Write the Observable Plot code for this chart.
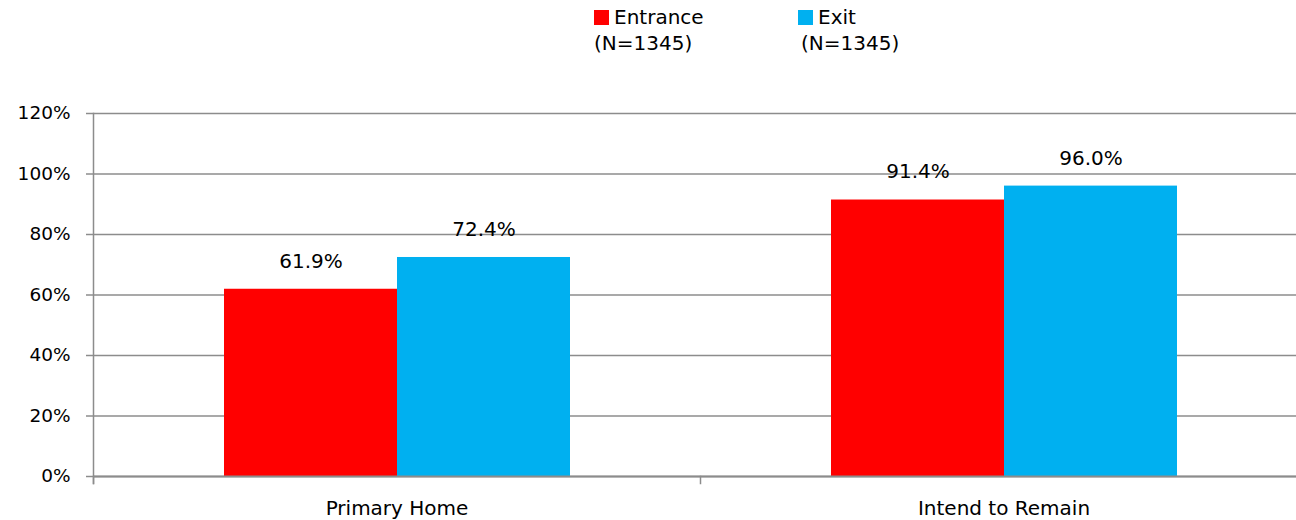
<!DOCTYPE html>
<html>
<head>
<meta charset="utf-8">
<script src="https://cdn.jsdelivr.net/npm/d3@7"></script>
<script src="https://cdn.jsdelivr.net/npm/@observablehq/plot@0.6"></script>
<style>
  html, body { margin: 0; padding: 0; background: #fff; overflow: hidden; }
  #wrap { position: relative; width: 1296px; height: 520px; overflow: hidden; font-family: "DejaVu Sans", sans-serif; }
  #chart { position: absolute; left: 0; top: 0; width: 1307px; }
  #chart svg { max-width: none !important; }
  .leg { position: absolute; font-size: 20px; color: #000; line-height: 1; white-space: nowrap; }
  .sw { display: inline-block; width: 15px; height: 15px; margin-right: 5px; vertical-align: -1px; }
</style>
</head>
<body>
<div id="wrap">
  <div id="chart"></div>
  <div class="leg" style="left:594px; top:7px;"><span class="sw" id="sw0"></span><span id="lg0"></span></div>
  <div class="leg" style="left:594px; top:33px;" id="ln0"></div>
  <div class="leg" style="left:798px; top:7px;"><span class="sw" id="sw1"></span><span id="lg1"></span></div>
  <div class="leg" style="left:801px; top:33px;" id="ln1"></div>
</div>
<script>
const categories = ["Primary Home", "Intend to Remain"];
const series = ["Entrance", "Exit"];
const seriesN = ["(N=1345)", "(N=1345)"];
const entrance = [0.619, 0.914];
const exit = [0.724, 0.960];
const yTicks = [0, 0.2, 0.4, 0.6, 0.8, 1.0, 1.2];
const colors = ["#FF0000", "#00B0F0"];

const values = [entrance, exit];
const data = categories.flatMap((c, i) => series.map((s, j) => ({category: c, series: s, value: values[j][i]})));

const gray = "#8c8c8c";
const pct = d3.format(".0%");

const chart = Plot.plot({
  width: 1307,
  height: 520,
  marginLeft: 93,
  marginRight: 0,
  marginTop: 113,
  marginBottom: 44,
  style: {fontFamily: "DejaVu Sans, sans-serif", fontSize: "18.5px", color: "#000", background: "transparent", maxWidth: "none"},
  fx: {domain: categories, padding: 0, label: null},
  x: {domain: series, paddingInner: 0, paddingOuter: 0.75, axis: null},
  y: {domain: [0, 1.2], label: null},
  color: {domain: series, range: colors},
  marks: [
    Plot.gridY({ticks: yTicks, stroke: gray, strokeOpacity: 1, strokeWidth: 1.5}),
    Plot.barY(data, {fx: "category", x: "series", y: "value", fill: "series"}),
    Plot.text(data, {fx: "category", x: "series", y: "value", text: d => (d.value * 100).toFixed(1) + "%", dy: -28, fontSize: 20, fill: "#000"}),
    Plot.ruleY([0], {stroke: gray, strokeWidth: 2}),
    Plot.frame({anchor: "left", facetAnchor: "left", stroke: gray, strokeWidth: 1.5, insetBottom: -7}),
    Plot.frame({anchor: "left", stroke: gray, strokeWidth: 1.5, insetTop: 363, insetBottom: -7}),
    Plot.axisY({ticks: yTicks, tickFormat: pct, tickSize: 7, tickPadding: 16, stroke: gray, strokeWidth: 1.5, fill: "#000", label: null}),
    Plot.axisFx({anchor: "bottom", tickSize: 0, tickPadding: 24, label: null, fill: "#000", fontSize: 20})
  ]
});
document.getElementById("chart").appendChild(chart);

series.forEach((s, i) => {
  document.getElementById("sw" + i).style.background = colors[i];
  document.getElementById("lg" + i).textContent = s;
  document.getElementById("ln" + i).textContent = seriesN[i];
});
</script>
</body>
</html>
